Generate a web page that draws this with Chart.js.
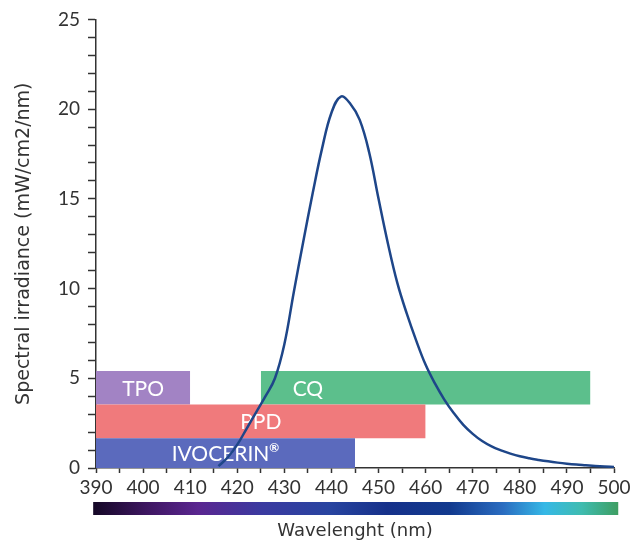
<!DOCTYPE html>
<html>
<head>
<meta charset="utf-8">
<script src="https://cdn.jsdelivr.net/npm/chart.js@4/dist/chart.umd.min.js"></script>
<style>
  html, body { margin: 0; padding: 0; background: #fff; }
  #wrap { width: 637px; height: 546px; }
</style>
</head>
<body>
<div id="wrap"><canvas id="spectrum"></canvas></div>
<script>
// emission spectrum of the lamp (every 2 nm)
const wavelength = [416, 418, 420, 422, 424, 426, 428, 430, 432, 434, 436, 438, 440, 442, 444, 446, 448, 450, 452, 454,
    456, 458, 460, 462, 464, 466, 468, 470, 472, 474, 476, 478, 480, 482, 484, 486, 488, 490, 492, 494,
    496, 498, 500]
const irradiance = [0.1, 0.6, 1.3, 2.2, 3.1, 4.0, 5.0, 6.9, 9.8, 12.6, 15.3, 17.8, 19.8, 20.7, 20.3, 19.4, 17.6, 15.0, 12.5, 10.3,
    8.6, 7.1, 5.75, 4.7, 3.8, 3.05, 2.4, 1.9, 1.5, 1.2, 0.98, 0.8, 0.65, 0.54, 0.45, 0.37, 0.3, 0.24, 0.19, 0.15,
    0.11, 0.08, 0.06]

// absorption ranges of the photoinitiators
const initiators = ['IVOCERIN®', 'PPD', 'TPO', 'CQ']
const rangeStart = [390, 390, 390, 425]
const rangeEnd = [445, 460, 410, 495]
const bandLow = [0, 1.66, 3.54, 3.54]
const bandHigh = [1.66, 3.54, 5.4, 5.4]
const labelAt = [417.5, 425, 400, 435]

const yTicksMin = 0
const yTicksMax = 25
const xTicksMin = 390
const xTicksMax = 500

const bandColors = ['#5b6abd', '#f07a7c', '#a283c4', '#5cbf8c']
const textColor = '#333'

const bandDatasets = initiators.map((name, i) => ({
    label: name,
    data: [{ x: rangeStart[i], y: bandHigh[i] }, { x: rangeEnd[i], y: bandHigh[i] }],
    borderWidth: 0,
    borderColor: 'rgba(0,0,0,0)',
    backgroundColor: bandColors[i],
    pointRadius: 0,
    tension: 0,
    fill: { value: bandLow[i] },
    order: 1
}))

/* barra de colores bajo el eje x */
const spectrumBar = {
    id: 'spectrumBar',
    afterDraw(chart) {
        const ctx = chart.ctx
        const x = chart.scales.x
        const x0 = x.getPixelForValue(389.4)
        const x1 = x.getPixelForValue(500.9)
        const grad = ctx.createLinearGradient(x0, 0, x1, 0)
        grad.addColorStop(0, '#150826')
        grad.addColorStop(0.1, '#3d1660')
        grad.addColorStop(0.2, '#5a2690')
        grad.addColorStop(0.32, '#3b3aa0')
        grad.addColorStop(0.45, '#2844a0')
        grad.addColorStop(0.56, '#16318a')
        grad.addColorStop(0.68, '#123a8e')
        grad.addColorStop(0.78, '#2a6cc0')
        grad.addColorStop(0.86, '#35b8e6')
        grad.addColorStop(0.93, '#3fbcb0')
        grad.addColorStop(1, '#3e9e62')
        ctx.save()
        ctx.fillStyle = grad
        ctx.fillRect(x0, 502, x1 - x0, 13)
        ctx.restore()
    }
}

/* nombres dentro de las bandas, antes de dibujar la curva */
const bandLabels = {
    id: 'bandLabels',
    beforeDatasetDraw(chart, args) {
        if (args.index !== 0) return
        const ctx = chart.ctx
        const x = chart.scales.x
        const y = chart.scales.y
        ctx.save()
        ctx.fillStyle = '#fff'
        ctx.textBaseline = 'middle'
        initiators.forEach((name, i) => {
            const px = x.getPixelForValue(labelAt[i])
            const py = y.getPixelForValue((bandLow[i] + bandHigh[i]) / 2) + 1
            let main = name
            let sup = ''
            if (name.endsWith('®')) {
                main = name.slice(0, -1)
                sup = '®'
            }
            ctx.font = '21px Lato'
            const wMain = ctx.measureText(main).width
            ctx.font = '12px Lato'
            const wSup = sup ? ctx.measureText(sup).width : 0
            const left = px - (wMain + wSup) / 2
            ctx.textAlign = 'left'
            ctx.font = '21px Lato'
            ctx.fillText(main, left, py)
            if (sup) {
                ctx.font = 'bold 12px Lato'
                ctx.fillText(sup, left + wMain, py - 6)
            }
        })
        ctx.restore()
    }
}

new Chart(document.getElementById('spectrum'), {
    type: 'line',
    data: {
        datasets: [{
            label: 'Spectral irradiance',
            data: wavelength.map((w, i) => ({ x: w, y: irradiance[i] })),
            borderColor: '#1e4689',
            borderWidth: 2.5,
            pointRadius: 0,
            fill: false,
            tension: 0.4,
            order: 0
        }, ...bandDatasets]
    },
    options: {
        responsive: true,
        maintainAspectRatio: false,
        animation: false,
        layout: { padding: { top: 17, right: 23, left: 0, bottom: 0 } },
        plugins: {
            legend: { display: false },
            tooltip: { enabled: false }
        },
        scales: {
            x: {
                type: 'linear',
                min: xTicksMin,
                max: xTicksMax,
                afterFit: (scale) => { scale.height = 78 },
                border: { display: true, color: textColor, width: 1.5 },
                grid: { drawOnChartArea: false, tickLength: 5, color: textColor, tickWidth: 1.5 },
                ticks: {
                    stepSize: 5,
                    autoSkip: false,
                    maxRotation: 0,
                    padding: 3,
                    color: textColor,
                    font: { family: 'Lato', size: 19 },
                    callback: (v) => v % 10 === 0 ? v : ''
                },
                title: {
                    display: true,
                    text: 'Wavelenght (nm)',
                    color: textColor,
                    font: { family: 'DejaVu Sans', size: 18 },
                    padding: { top: 0, bottom: 4 }
                }
            },
            y: {
                min: yTicksMin,
                max: yTicksMax,
                afterFit: (scale) => { scale.width = 96 },
                border: { display: true, color: textColor, width: 1.5 },
                grid: { drawOnChartArea: false, tickLength: 8, color: textColor, tickWidth: 1.5 },
                ticks: {
                    stepSize: 1,
                    autoSkip: false,
                    padding: 8,
                    color: textColor,
                    font: { family: 'Lato', size: 19 },
                    callback: (v) => v % 5 === 0 ? v : ''
                },
                title: {
                    display: true,
                    text: 'Spectral irradiance (mW/cm2/nm)',
                    color: textColor,
                    font: { family: 'DejaVu Sans', size: 19 },
                    padding: { top: 13, bottom: 0 }
                }
            }
        }
    },
    plugins: [spectrumBar, bandLabels]
})
</script>
</body>
</html>
